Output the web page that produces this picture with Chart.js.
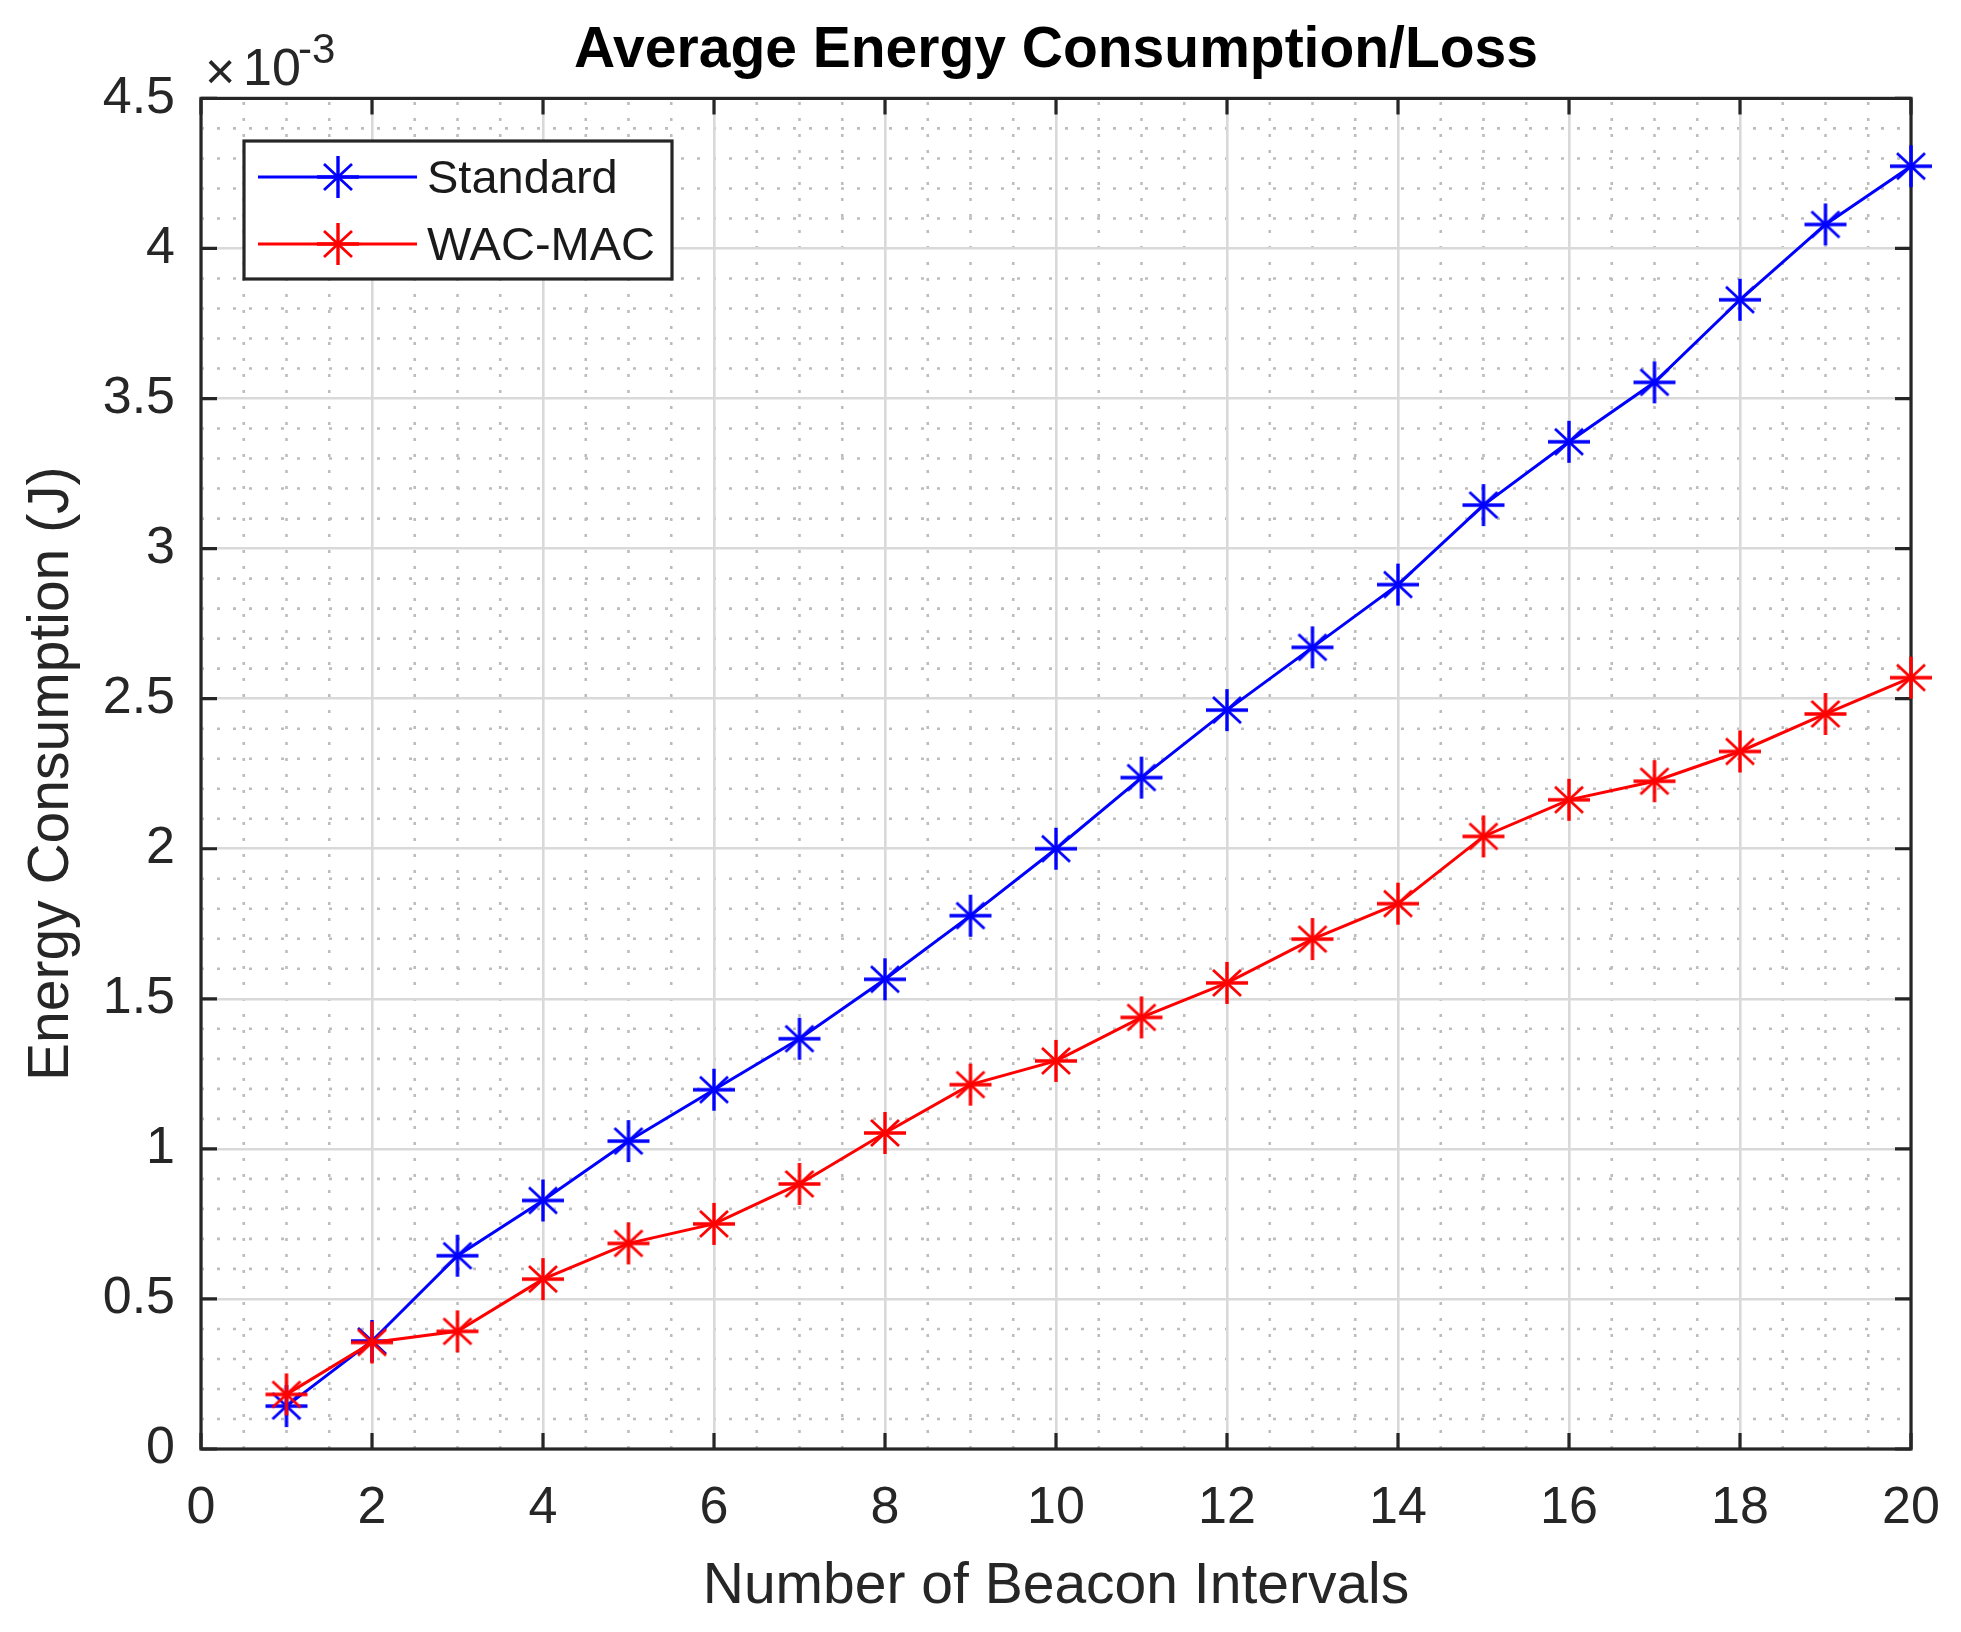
<!DOCTYPE html>
<html>
<head>
<meta charset="utf-8">
<script src="https://cdn.jsdelivr.net/npm/chart.js@4.4.1/dist/chart.umd.min.js"></script>
<style>
html,body{margin:0;padding:0;background:#fff;overflow:hidden}
canvas{display:block}
</style>
</head>
<body>
<canvas id="c" width="1961" height="1632"></canvas>
<script>
// ---- data (energy in units of 10^-3 J) ----
const beaconIntervals = [1,2,3,4,5,6,7,8,9,10,11,12,13,14,15,16,17,18,19,20];
const standardEnergy = [0.143,0.360,0.644,0.828,1.026,1.197,1.367,1.565,1.777,2.000,2.237,2.462,2.671,2.880,3.145,3.356,3.554,3.829,4.080,4.274];
const wacMacEnergy   = [0.182,0.355,0.392,0.566,0.685,0.750,0.883,1.053,1.214,1.293,1.438,1.553,1.699,1.817,2.041,2.163,2.225,2.324,2.449,2.570];
const seriesNames = ['Standard','WAC-MAC'];
const seriesColors = ['#0000ff','#ff0000'];
const xTicks = [0,2,4,6,8,10,12,14,16,18,20];
const yTicks = [0,0.5,1,1.5,2,2.5,3,3.5,4,4.5];
const yExponent = '-3';
const chartTitle = 'Average Energy Consumption/Loss';
const xLabel = 'Number of Beacon Intervals';
const yLabel = 'Energy Consumption (J)';

const FONT = '"Liberation Sans", Arial, Helvetica, sans-serif';
const AX = '#262626';

function asterisk(color){
  const c = document.createElement('canvas');
  c.width = 46; c.height = 46;
  const g = c.getContext('2d');
  g.strokeStyle = color; g.lineCap = 'butt';
  g.lineWidth = 3.4;
  g.beginPath();
  g.moveTo(23,2); g.lineTo(23,44);
  g.moveTo(2,23); g.lineTo(44,23);
  g.stroke();
  g.lineWidth = 2.8;
  g.beginPath();
  g.moveTo(23-14,23-13); g.lineTo(23+14,23+13);
  g.moveTo(23+14,23-13); g.lineTo(23-14,23+13);
  g.stroke();
  return c;
}
const markers = seriesColors.map(asterisk);

const minorGrid = {
  id:'minorGrid',
  beforeDraw(chart){
    const ctx = chart.ctx, a = chart.chartArea, xs = chart.scales.x, ys = chart.scales.y;
    ctx.save();
    ctx.fillStyle = '#fff';
    ctx.fillRect(0,0,chart.width,chart.height);
    ctx.strokeStyle = '#bdbdbd';
    ctx.lineWidth = 2.6;
    ctx.setLineDash([3,13]);
    for (let i = 1; i < 40; i++) {
      if (i % 4 === 0) continue;
      const px = xs.getPixelForValue(i * 0.5);
      ctx.beginPath(); ctx.moveTo(px, a.bottom); ctx.lineTo(px, a.top); ctx.stroke();
    }
    for (let i = 1; i < 45; i++) {
      if (i % 5 === 0) continue;
      const py = ys.getPixelForValue(i / 10);
      ctx.beginPath(); ctx.moveTo(a.left, py); ctx.lineTo(a.right, py); ctx.stroke();
    }
    ctx.restore();
  }
};

const axesBox = {
  id:'axesBox',
  beforeDatasetsDraw(chart){
    const ctx = chart.ctx, a = chart.chartArea, xs = chart.scales.x, ys = chart.scales.y;
    const tl = 16;
    ctx.save();
    ctx.strokeStyle = AX;
    ctx.lineWidth = 3.2;
    ctx.beginPath();
    xTicks.forEach(v => {
      const px = xs.getPixelForValue(v);
      ctx.moveTo(px, a.bottom); ctx.lineTo(px, a.bottom - tl);
      ctx.moveTo(px, a.top); ctx.lineTo(px, a.top + tl);
    });
    yTicks.forEach(v => {
      const py = ys.getPixelForValue(v);
      ctx.moveTo(a.left, py); ctx.lineTo(a.left + tl, py);
      ctx.moveTo(a.right, py); ctx.lineTo(a.right - tl, py);
    });
    ctx.stroke();
    ctx.strokeRect(a.left, a.top, a.right - a.left, a.bottom - a.top);
    ctx.restore();
  }
};

const overlay = {
  id:'overlay',
  afterDatasetsDraw(chart){
    const ctx = chart.ctx, a = chart.chartArea;
    ctx.save();
    // exponent label
    ctx.fillStyle = AX;
    ctx.textAlign = 'left';
    ctx.textBaseline = 'alphabetic';
    ctx.font = '52px ' + FONT;
    ctx.fillText('\u00d7', a.left + 4, 89);
    ctx.fillText('10', a.left + 42, 85);
    ctx.font = '42px ' + FONT;
    ctx.fillText(yExponent, a.left + 97, 63);
    // legend
    const bx = 244, by = 141, bw = 428, bh = 138;
    ctx.fillStyle = '#fff';
    ctx.fillRect(bx, by, bw, bh);
    ctx.strokeStyle = AX;
    ctx.lineWidth = 3.2;
    ctx.strokeRect(bx, by, bw, bh);
    const rows = [177, 244];
    chart.data.datasets.forEach((ds, i) => {
      const y = rows[i];
      ctx.strokeStyle = ds.borderColor;
      ctx.lineWidth = 3;
      ctx.beginPath(); ctx.moveTo(258, y); ctx.lineTo(417, y); ctx.stroke();
      ctx.drawImage(ds.pointStyle, 338 - 23, y - 23);
      ctx.fillStyle = '#1a1a1a';
      ctx.font = '47px ' + FONT;
      ctx.textBaseline = 'middle';
      ctx.fillText(ds.label, 427, y + 3);
    });
    ctx.restore();
  }
};

const datasets = [standardEnergy, wacMacEnergy].map((vals, i) => ({
  label: seriesNames[i],
  data: beaconIntervals.map((x, k) => ({x: x, y: vals[k]})),
  borderColor: seriesColors[i],
  backgroundColor: seriesColors[i],
  borderWidth: 3,
  pointStyle: markers[i],
  pointRadius: 21,
  pointHoverRadius: 21,
  tension: 0,
  clip: false,
  order: i === 0 ? 1 : 0
}));

new Chart(document.getElementById('c'), {
  type: 'line',
  data: { datasets },
  options: {
    responsive: false,
    devicePixelRatio: 1,
    animation: false,
    events: [],
    layout: { padding: { left: 0, top: 0, right: 50, bottom: 0 } },
    plugins: {
      legend: { display: false },
      tooltip: { enabled: false },
      title: {
        display: true,
        fullSize: false,
        text: chartTitle,
        color: '#000',
        font: { family: FONT, size: 57, weight: 'bold' },
        padding: { top: 17, bottom: 13 }
      }
    },
    scales: {
      x: {
        type: 'linear', min: 0, max: 20,
        afterBuildTicks: s => { s.ticks = xTicks.map(v => ({value: v})); },
        afterFit: s => { s.height = 183; s.paddingLeft = 0; s.paddingRight = 0; },
        grid: { color: '#d9d9d9', lineWidth: 2.6, drawTicks: false },
        border: { display: false },
        ticks: { color: AX, font: { family: FONT, size: 52 }, padding: 28, maxRotation: 0, autoSkip: false },
        title: { display: true, text: xLabel, color: AX, font: { family: FONT, size: 57 }, padding: { top: 0, bottom: 11 } }
      },
      y: {
        type: 'linear', min: 0, max: 4.5,
        afterBuildTicks: s => { s.ticks = yTicks.map(v => ({value: v})); },
        afterFit: s => { s.width = 201; s.paddingTop = 0; s.paddingBottom = 0; },
        grid: { color: '#d9d9d9', lineWidth: 2.6, drawTicks: false },
        border: { display: false },
        ticks: { color: AX, font: { family: FONT, size: 52 }, padding: 26, callback: v => String(v) },
        title: { display: true, text: yLabel, color: AX, font: { family: FONT, size: 57 }, padding: { top: 18, bottom: 0 } }
      }
    }
  },
  plugins: [minorGrid, axesBox, overlay]
});
</script>
</body>
</html>
